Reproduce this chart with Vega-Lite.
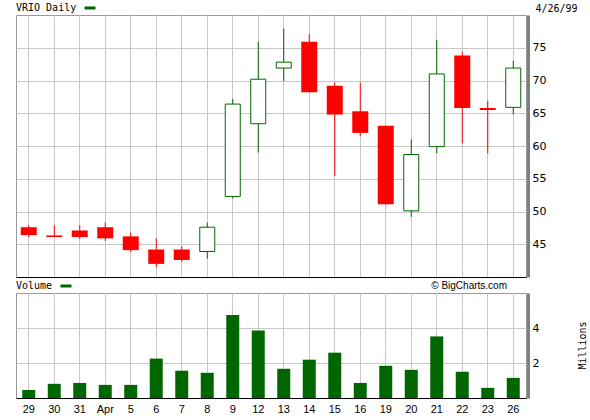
{
  "$schema": "https://vega.github.io/schema/vega-lite/v6.json",
  "padding": {"left": 15, "top": 0, "right": 5, "bottom": 2},
  "background": "white",
  "spacing": 0,
  "data": {"values": [
    {"d": "29", "o": 47.6, "h": 47.9, "l": 46.1, "c": 46.4, "v": 0.46},
    {"d": "30", "o": 46.35, "h": 47.9, "l": 46.1, "c": 46.1, "v": 0.81},
    {"d": "31", "o": 47.1, "h": 47.9, "l": 45.8, "c": 46.1, "v": 0.86},
    {"d": "Apr", "o": 47.6, "h": 48.3, "l": 45.5, "c": 45.9, "v": 0.75},
    {"d": "5", "o": 46.2, "h": 46.8, "l": 43.8, "c": 44.1, "v": 0.75},
    {"d": "6", "o": 44.2, "h": 45.9, "l": 41.5, "c": 42.0, "v": 2.25},
    {"d": "7", "o": 44.2, "h": 44.7, "l": 42.3, "c": 42.6, "v": 1.56},
    {"d": "8", "o": 43.9, "h": 48.3, "l": 42.8, "c": 47.6, "v": 1.44},
    {"d": "9", "o": 52.3, "h": 67.2, "l": 52.0, "c": 66.4, "v": 4.74},
    {"d": "12", "o": 63.4, "h": 75.9, "l": 59.0, "c": 70.2, "v": 3.86},
    {"d": "13", "o": 71.9, "h": 77.9, "l": 69.9, "c": 72.8, "v": 1.67},
    {"d": "14", "o": 75.9, "h": 77.1, "l": 68.2, "c": 68.2, "v": 2.19},
    {"d": "15", "o": 69.2, "h": 69.7, "l": 55.4, "c": 64.8, "v": 2.59},
    {"d": "16", "o": 65.3, "h": 69.7, "l": 61.5, "c": 62.0, "v": 0.86},
    {"d": "19", "o": 63.1, "h": 63.1, "l": 51.0, "c": 51.1, "v": 1.84},
    {"d": "20", "o": 50.1, "h": 61.0, "l": 49.2, "c": 58.7, "v": 1.61},
    {"d": "21", "o": 59.9, "h": 76.2, "l": 58.9, "c": 71.0, "v": 3.52},
    {"d": "22", "o": 73.8, "h": 74.4, "l": 60.4, "c": 65.8, "v": 1.50},
    {"d": "23", "o": 65.8, "h": 66.9, "l": 58.9, "c": 65.5, "v": 0.58},
    {"d": "26", "o": 65.9, "h": 73.0, "l": 64.8, "c": 71.9, "v": 1.15}
  ]},
  "config": {
    "view": {"stroke": "#999999", "strokeWidth": 1},
    "axis": {"gridColor": "#c8c8c8", "gridOpacity": 1, "gridWidth": 1, "ticks": false, "labelFont": "DejaVu Sans", "labelFontSize": 11, "labelColor": "black", "domain": false, "titleFont": "DejaVu Sans Mono", "titleFontSize": 10, "titleFontWeight": "normal", "titleColor": "black"},
    "legend": {"orient": "top", "direction": "horizontal", "titleOrient": "left", "titleFont": "DejaVu Sans Mono", "titleFontSize": 10, "titleFontWeight": "normal", "titleColor": "black", "padding": 0, "offset": 1, "symbolType": "stroke", "symbolStrokeWidth": 3, "symbolSize": 121, "symbolStrokeColor": "#006600", "symbolFillColor": "#006600", "titlePadding": 6, "labelFontSize": 1},
    "title": {"font": "Liberation Sans", "fontSize": 10, "fontWeight": "normal", "color": "black"}
  },
  "resolve": {"scale": {"color": "independent", "y": "independent"}, "legend": {"color": "independent"}},
  "vconcat": [
    {
      "width": 510,
      "height": 262,
      "encoding": {
        "x": {"field": "d", "type": "nominal", "sort": null,
              "scale": {"domain": ["29", "30", "31", "Apr", "5", "6", "7", "8", "9", "12", "13", "14", "15", "16", "19", "20", "21", "22", "23", "26"], "paddingInner": 0, "paddingOuter": 0},
              "axis": {"labels": false, "title": null, "domain": true, "domainColor": "black", "domainWidth": 1, "grid": true, "bandPosition": 0.5}}
      },
      "layer": [
        {
          "transform": [{"filter": "datum.c < datum.o"}],
          "mark": {"type": "rule", "color": "#ff0000", "strokeWidth": 1},
          "encoding": {
            "y": {"field": "l", "type": "quantitative", "scale": {"domain": [40, 80], "nice": false, "zero": false},
                  "axis": {"orient": "right", "values": [45, 50, 55, 60, 65, 70, 75], "grid": true, "labelPadding": 4, "offset": 2,
                           "domain": true, "domainColor": "#808080", "domainWidth": 3,
                           "title": "4/26/99", "titleAngle": 0, "titleAlign": "left", "titleBaseline": "alphabetic", "titleX": 7, "titleY": -4}},
            "y2": {"field": "h"}
          }
        },
        {
          "transform": [{"filter": "datum.c >= datum.o"}],
          "mark": {"type": "rule", "strokeWidth": 1},
          "encoding": {
            "y": {"field": "l", "type": "quantitative"},
            "y2": {"field": "h"},
            "color": {"datum": "VRIO Daily", "scale": {"range": ["#006600"]},
                      "legend": {"title": "VRIO Daily", "labelExpr": "''"}}
          }
        },
        {
          "transform": [{"filter": "datum.c < datum.o"}],
          "mark": {"type": "bar", "width": 16, "color": "#ff0000"},
          "encoding": {
            "y": {"field": "o", "type": "quantitative"},
            "y2": {"field": "c"}
          }
        },
        {
          "transform": [{"filter": "datum.c >= datum.o"}],
          "mark": {"type": "bar", "width": 15, "fill": "white", "stroke": "#006600", "strokeWidth": 1},
          "encoding": {
            "y": {"field": "o", "type": "quantitative"},
            "y2": {"field": "c"}
          }
        }
      ]
    },
    {
      "width": 510,
      "height": 105,
      "title": {"text": "© BigCharts.com", "anchor": "end", "frame": "group", "dx": -19, "offset": -12},
      "mark": {"type": "bar", "width": 13},
      "encoding": {
        "x": {"field": "d", "type": "nominal", "sort": null,
              "scale": {"domain": ["29", "30", "31", "Apr", "5", "6", "7", "8", "9", "12", "13", "14", "15", "16", "19", "20", "21", "22", "23", "26"], "paddingInner": 0, "paddingOuter": 0},
              "axis": {"labelAngle": 0, "labelFont": "Liberation Sans", "labelFontSize": 11, "labelPadding": 5, "title": null, "domain": true, "domainColor": "black", "domainWidth": 1, "grid": true, "bandPosition": 0.5}},
        "y": {"field": "v", "type": "quantitative", "scale": {"domain": [0, 6], "nice": false},
              "axis": {"orient": "right", "values": [2, 4], "grid": true, "labelPadding": 4, "offset": 2,
                       "domain": true, "domainColor": "#808080", "domainWidth": 3,
                       "title": "Millions", "titleAngle": 270, "titleAlign": "center", "titleBaseline": "middle", "titleX": 54, "titleY": 52}},
        "color": {"datum": "Volume", "scale": {"range": ["#006600"]},
                  "legend": {"title": "Volume", "labelExpr": "''"}}
      }
    }
  ]
}
